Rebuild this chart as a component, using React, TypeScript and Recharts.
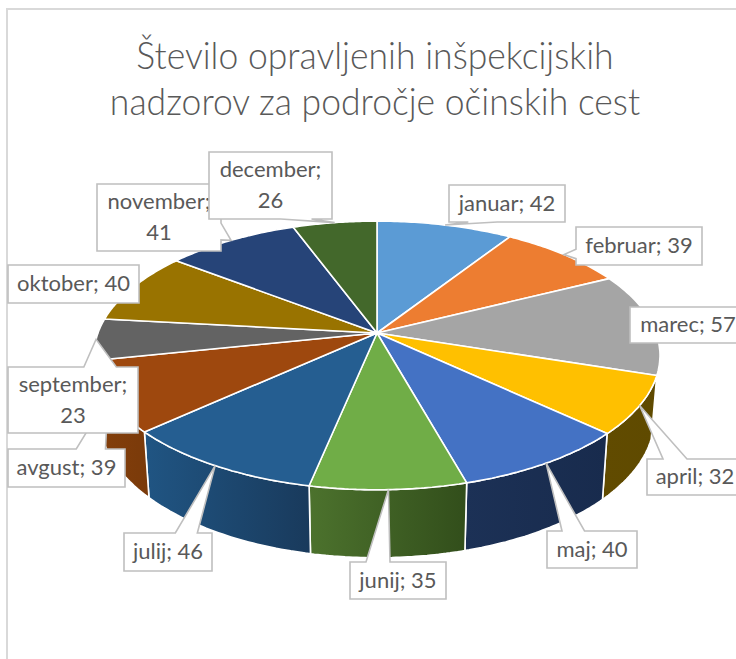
import { PieChart, Pie } from "recharts";

const months = ["januar", "februar", "marec", "april", "maj", "junij", "julij", "avgust", "september", "oktober", "november", "december"];
const inspections = [42, 39, 57, 32, 40, 35, 46, 39, 23, 40, 41, 26];
const topColors = ["#5B9BD5", "#ED7D31", "#A5A5A5", "#FFC000", "#4472C4", "#70AD47", "#255E91", "#9E480E", "#636363", "#997300", "#264478", "#43682B"];
// side wall gradient, only the slices that face the viewer have one
const wallColors: (string[] | null)[] = [null, null, null, ["#614B00", "#5F4A00"], ["#1C3156", "#182B4D"], ["#4C722D", "#324E1B"], ["#205583", "#193A5C"], ["#843F0B", "#7A3A0A"], null, null, null, null];
const titleLines = ["Število opravljenih inšpekcijskih", "nadzorov za področje očinskih cest"];
// x, y, w, h of each callout
const labelBoxes = [
  [449, 185, 116, 37], [576, 227, 126, 38], [630, 307, 116, 36], [647, 459, 96, 36],
  [547, 531, 90, 37], [350, 562, 96, 37], [124, 533, 88, 38], [8, 449, 117, 38],
  [8, 367, 130, 66], [8, 265, 131, 38], [97, 184, 124, 67], [209, 152, 123, 67],
];

const data = months.map((name, i) => ({ name, value: inspections[i] }));

const PERSPECTIVE = 0.167;
const TILT = 0.468;
const BOTTOM_SCALE = 0.98;
const BOTTOM_DROP = 62;
const TILT_BOTTOM = 0.486;
const FONT = "Lato, Carlito, sans-serif";

// recharts angle -> point on the tilted disc
function project(cx: number, cy: number, r: number, angle: number, bottom = false) {
  const t = ((90 - angle) * Math.PI) / 180;
  const u = Math.sin(t);
  const v = Math.cos(t);
  const d = 1 + PERSPECTIVE * v;
  if (bottom) {
    return { x: cx + (BOTTOM_SCALE * r * u) / d, y: cy + BOTTOM_DROP - (TILT_BOTTOM * r * v) / d };
  }
  return { x: cx + (r * u) / d, y: cy - (TILT * r * v) / d };
}

function arc(p: any, bottom = false) {
  const n = 40;
  const pts = [];
  for (let i = 0; i <= n; i++) {
    const a = p.startAngle + ((p.endAngle - p.startAngle) * i) / n;
    pts.push(project(p.cx, p.cy, p.outerRadius, a, bottom));
  }
  return pts;
}

const toPath = (pts: { x: number; y: number }[]) =>
  "M" + pts.map((q) => `${q.x.toFixed(1)},${q.y.toFixed(1)}`).join("L") + "Z";

function TopFace(p: any) {
  const pts = [{ x: p.cx, y: p.cy }, ...arc(p)];
  return <path d={toPath(pts)} fill={topColors[p.index]} stroke="#fff" strokeWidth={1.6} strokeLinejoin="round" />;
}

function WallFace(p: any) {
  const stops = wallColors[p.index];
  if (!stops) return <g />;
  const pts = [...arc(p), ...arc(p, true).reverse()];
  const id = `wall-${p.index}`;
  return (
    <g>
      <defs>
        <linearGradient id={id} x1="0" y1="0" x2="1" y2="0">
          <stop offset="0" stopColor={stops[0]} />
          <stop offset="1" stopColor={stops[1]} />
        </linearGradient>
      </defs>
      <path d={toPath(pts)} fill={`url(#${id})`} stroke="#fff" strokeWidth={1.6} strokeLinejoin="round" />
    </g>
  );
}

// rectangle with a wedge towards the tip, like an office callout shape
function calloutPath(x: number, y: number, w: number, h: number, tx: number, ty: number) {
  const inside = tx > x && tx < x + w && ty > y && ty < y + h;
  const rect = `M${x},${y}H${x + w}V${y + h}H${x}Z`;
  if (inside) return rect;
  const dx = (tx - (x + w / 2)) / w;
  const dy = (ty - (y + h / 2)) / h;
  if (Math.abs(dy) >= Math.abs(dx)) {
    const a = x + (dx > 0 ? (7 * w) / 12 : (2 * w) / 12);
    const b = x + (dx > 0 ? (10 * w) / 12 : (5 * w) / 12);
    if (dy < 0) return `M${x},${y}H${a}L${tx},${ty}L${b},${y}H${x + w}V${y + h}H${x}Z`;
    return `M${x},${y}H${x + w}V${y + h}H${b}L${tx},${ty}L${a},${y + h}H${x}Z`;
  }
  const a = y + (dy > 0 ? (7 * h) / 12 : (2 * h) / 12);
  const b = y + (dy > 0 ? (10 * h) / 12 : (5 * h) / 12);
  if (dx < 0) return `M${x},${y}H${x + w}V${y + h}H${x}V${b}L${tx},${ty}L${x},${a}Z`;
  return `M${x},${y}H${x + w}V${a}L${tx},${ty}L${x + w},${b}V${y + h}H${x}Z`;
}

function Callout(p: any) {
  const [x, y, w, h] = labelBoxes[p.index];
  const tip = project(p.cx, p.cy, p.outerRadius, p.midAngle);
  const name = months[p.index];
  const value = inspections[p.index];
  const lines = h > 50 ? [`${name};`, `${value}`] : [`${name}; ${value}`];
  const mid = x + w / 2;
  return (
    <g>
      <path d={calloutPath(x, y, w, h, tip.x, tip.y)} fill="#fff" stroke="#BFBFBF" strokeWidth={1.6} />
      {lines.map((line, i) => (
        <text key={i} x={mid} y={y + h / 2 + 7 + (i - (lines.length - 1) / 2) * 31} textAnchor="middle" fontFamily={FONT} fontSize={22} fill="#595959">
          {line}
        </text>
      ))}
    </g>
  );
}

export default function App() {
  return (
    <div style={{ position: "absolute", left: 0, top: 0, width: 736, height: 659, overflow: "hidden", background: "#fff" }}>
      <div style={{ position: "absolute", left: 6, top: 8, width: 800, height: 800, borderLeft: "2px solid #D9D9D9", borderTop: "2px solid #D9D9D9" }} />
      <div style={{ position: "absolute", left: 0, top: 31, width: 750, textAlign: "center", fontFamily: FONT, fontWeight: 300, fontSize: 38, lineHeight: "46px", color: "#595959", transform: "scaleX(0.935)" }}>
        {titleLines.map((t) => (
          <div key={t}>{t}</div>
        ))}
      </div>
      <div style={{ position: "absolute", left: 0, top: 0 }}>
        <PieChart width={736} height={659} margin={{ top: 0, right: 0, bottom: 0, left: 0 }}>
          <Pie data={data} dataKey="value" nameKey="name" cx={377} cy={333} outerRadius={279} startAngle={90} endAngle={-270} isAnimationActive={false} shape={WallFace} />
          <Pie data={data} dataKey="value" nameKey="name" cx={377} cy={333} outerRadius={279} startAngle={90} endAngle={-270} isAnimationActive={false} shape={TopFace} label={Callout} labelLine={false} />
        </PieChart>
      </div>
    </div>
  );
}
